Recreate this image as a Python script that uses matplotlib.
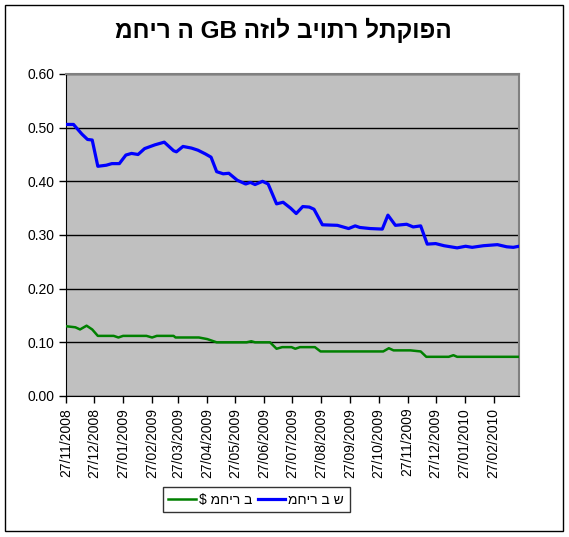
import matplotlib
matplotlib.use("Agg")
import matplotlib.pyplot as plt
import matplotlib.dates as mdates
import matplotlib.ticker as mticker
import pandas as pd
from matplotlib.patches import Rectangle

plt.rcParams['font.family'] = ['Liberation Sans', 'DejaVu Sans']

title = "מחיר ה GB הזול ביותר לתקופה"
label_usd = "$ מחיר ב"
label_ils = "מחיר ב ש"

ils_dates = ["2008-11-27", "2008-12-05", "2008-12-14", "2008-12-20", "2008-12-25",
             "2008-12-31", "2009-01-09", "2009-01-15", "2009-01-23", "2009-01-30",
             "2009-02-05", "2009-02-12", "2009-02-19", "2009-03-02", "2009-03-12",
             "2009-03-22", "2009-03-25", "2009-04-01", "2009-04-10", "2009-04-17",
             "2009-04-25", "2009-05-01", "2009-05-07", "2009-05-14", "2009-05-20",
             "2009-05-29", "2009-06-07", "2009-06-12", "2009-06-17", "2009-06-25",
             "2009-07-01", "2009-07-10", "2009-07-17", "2009-07-25", "2009-07-31",
             "2009-08-07", "2009-08-14", "2009-08-19", "2009-08-28", "2009-09-13",
             "2009-09-25", "2009-10-02", "2009-10-07", "2009-10-18", "2009-10-31",
             "2009-11-06", "2009-11-14", "2009-11-26", "2009-12-03", "2009-12-11",
             "2009-12-18", "2009-12-27", "2010-01-05", "2010-01-19", "2010-01-28",
             "2010-02-04", "2010-02-16", "2010-03-03", "2010-03-13", "2010-03-20",
             "2010-03-26"]
ils_price = [0.506, 0.506, 0.488, 0.478, 0.477,
             0.428, 0.430, 0.433, 0.433, 0.449,
             0.452, 0.450, 0.461, 0.468, 0.473,
             0.457, 0.455, 0.465, 0.462, 0.458,
             0.451, 0.445, 0.418, 0.414, 0.415,
             0.402, 0.395, 0.398, 0.394, 0.400,
             0.395, 0.358, 0.361, 0.350, 0.340,
             0.353, 0.352, 0.348, 0.319, 0.318,
             0.312, 0.317, 0.314, 0.312, 0.311,
             0.337, 0.318, 0.320, 0.315, 0.317,
             0.283, 0.284, 0.280, 0.276, 0.279,
             0.277, 0.280, 0.282, 0.278, 0.277,
             0.279]

usd_dates = ["2008-11-27", "2008-12-07", "2008-12-12", "2008-12-19", "2008-12-25",
             "2008-12-31", "2009-01-17", "2009-01-22", "2009-01-27", "2009-02-21",
             "2009-02-27", "2009-03-04", "2009-03-22", "2009-03-24", "2009-04-18",
             "2009-04-27", "2009-05-07", "2009-06-08", "2009-06-13", "2009-06-17",
             "2009-07-03", "2009-07-10", "2009-07-16", "2009-07-26", "2009-07-30",
             "2009-08-04", "2009-08-20", "2009-08-26", "2009-11-01", "2009-11-07",
             "2009-11-12", "2009-11-30", "2009-12-11", "2009-12-17", "2010-01-10",
             "2010-01-15", "2010-01-19", "2010-03-26"]
usd_price = [0.130, 0.128, 0.124, 0.131, 0.124,
             0.112, 0.112, 0.109, 0.112, 0.112,
             0.109, 0.112, 0.112, 0.109, 0.109,
             0.106, 0.100, 0.100, 0.102, 0.100,
             0.100, 0.088, 0.091, 0.091, 0.088,
             0.091, 0.091, 0.083, 0.083, 0.089,
             0.085, 0.085, 0.083, 0.073, 0.073,
             0.076, 0.073, 0.073]

# monthly ticks on the 27th, 27/11/2008 .. 27/02/2010
tick_dates = pd.date_range("2008-11-01", "2010-02-01", freq="MS") + pd.Timedelta(days=26)

fig = plt.figure(figsize=(5.69, 5.37), dpi=100)
fig.patch.set_facecolor('white')
ax = fig.add_axes([0.116, 0.2626, 0.796, 0.5996])
ax.set_facecolor('#c0c0c0')

ax.plot(pd.to_datetime(usd_dates), usd_price, color='#008000', lw=1.8,
        label=label_usd, zorder=3)
ax.plot(pd.to_datetime(ils_dates), ils_price, color='#0000ff', lw=2.3,
        label=label_ils, zorder=3)

ax.set_ylim(0, 0.6)
ax.set_xlim(pd.Timestamp("2008-11-27"), pd.Timestamp("2010-03-26"))
ax.yaxis.set_major_locator(mticker.MultipleLocator(0.1))
ax.yaxis.set_major_formatter(mticker.FormatStrFormatter('%.2f'))
ax.grid(axis='y', color='black', lw=1, zorder=1)
ax.set_axisbelow(True)

ax.set_xticks(tick_dates)
ax.xaxis.set_major_formatter(mdates.DateFormatter('%d/%m/%Y'))
plt.setp(ax.get_xticklabels(), rotation=90)
ax.tick_params(axis='both', labelsize=10, length=5, width=1, direction='out', color='black')

for side in ['left', 'bottom']:
    ax.spines[side].set_color('black')
for side in ['top', 'right']:
    ax.spines[side].set_color('#808080')
    ax.spines[side].set_linewidth(1.5)

fig.text(0.4985, 0.944, title, ha='center', va='center', fontsize=17.5, fontweight='bold')

leg = fig.legend(loc='center', bbox_to_anchor=(0.45, 0.0695), ncol=2, fontsize=10,
                 frameon=True, fancybox=False, edgecolor='black', handlelength=2.0,
                 columnspacing=0.4, handletextpad=0.2, borderpad=0.4)
leg.get_frame().set_linewidth(1)

fig.patches.append(Rectangle((0.009, 0.011), 0.981, 0.98, transform=fig.transFigure,
                             fill=False, edgecolor='black', lw=1))

fig.savefig("out.png", dpi=100, facecolor='white')
